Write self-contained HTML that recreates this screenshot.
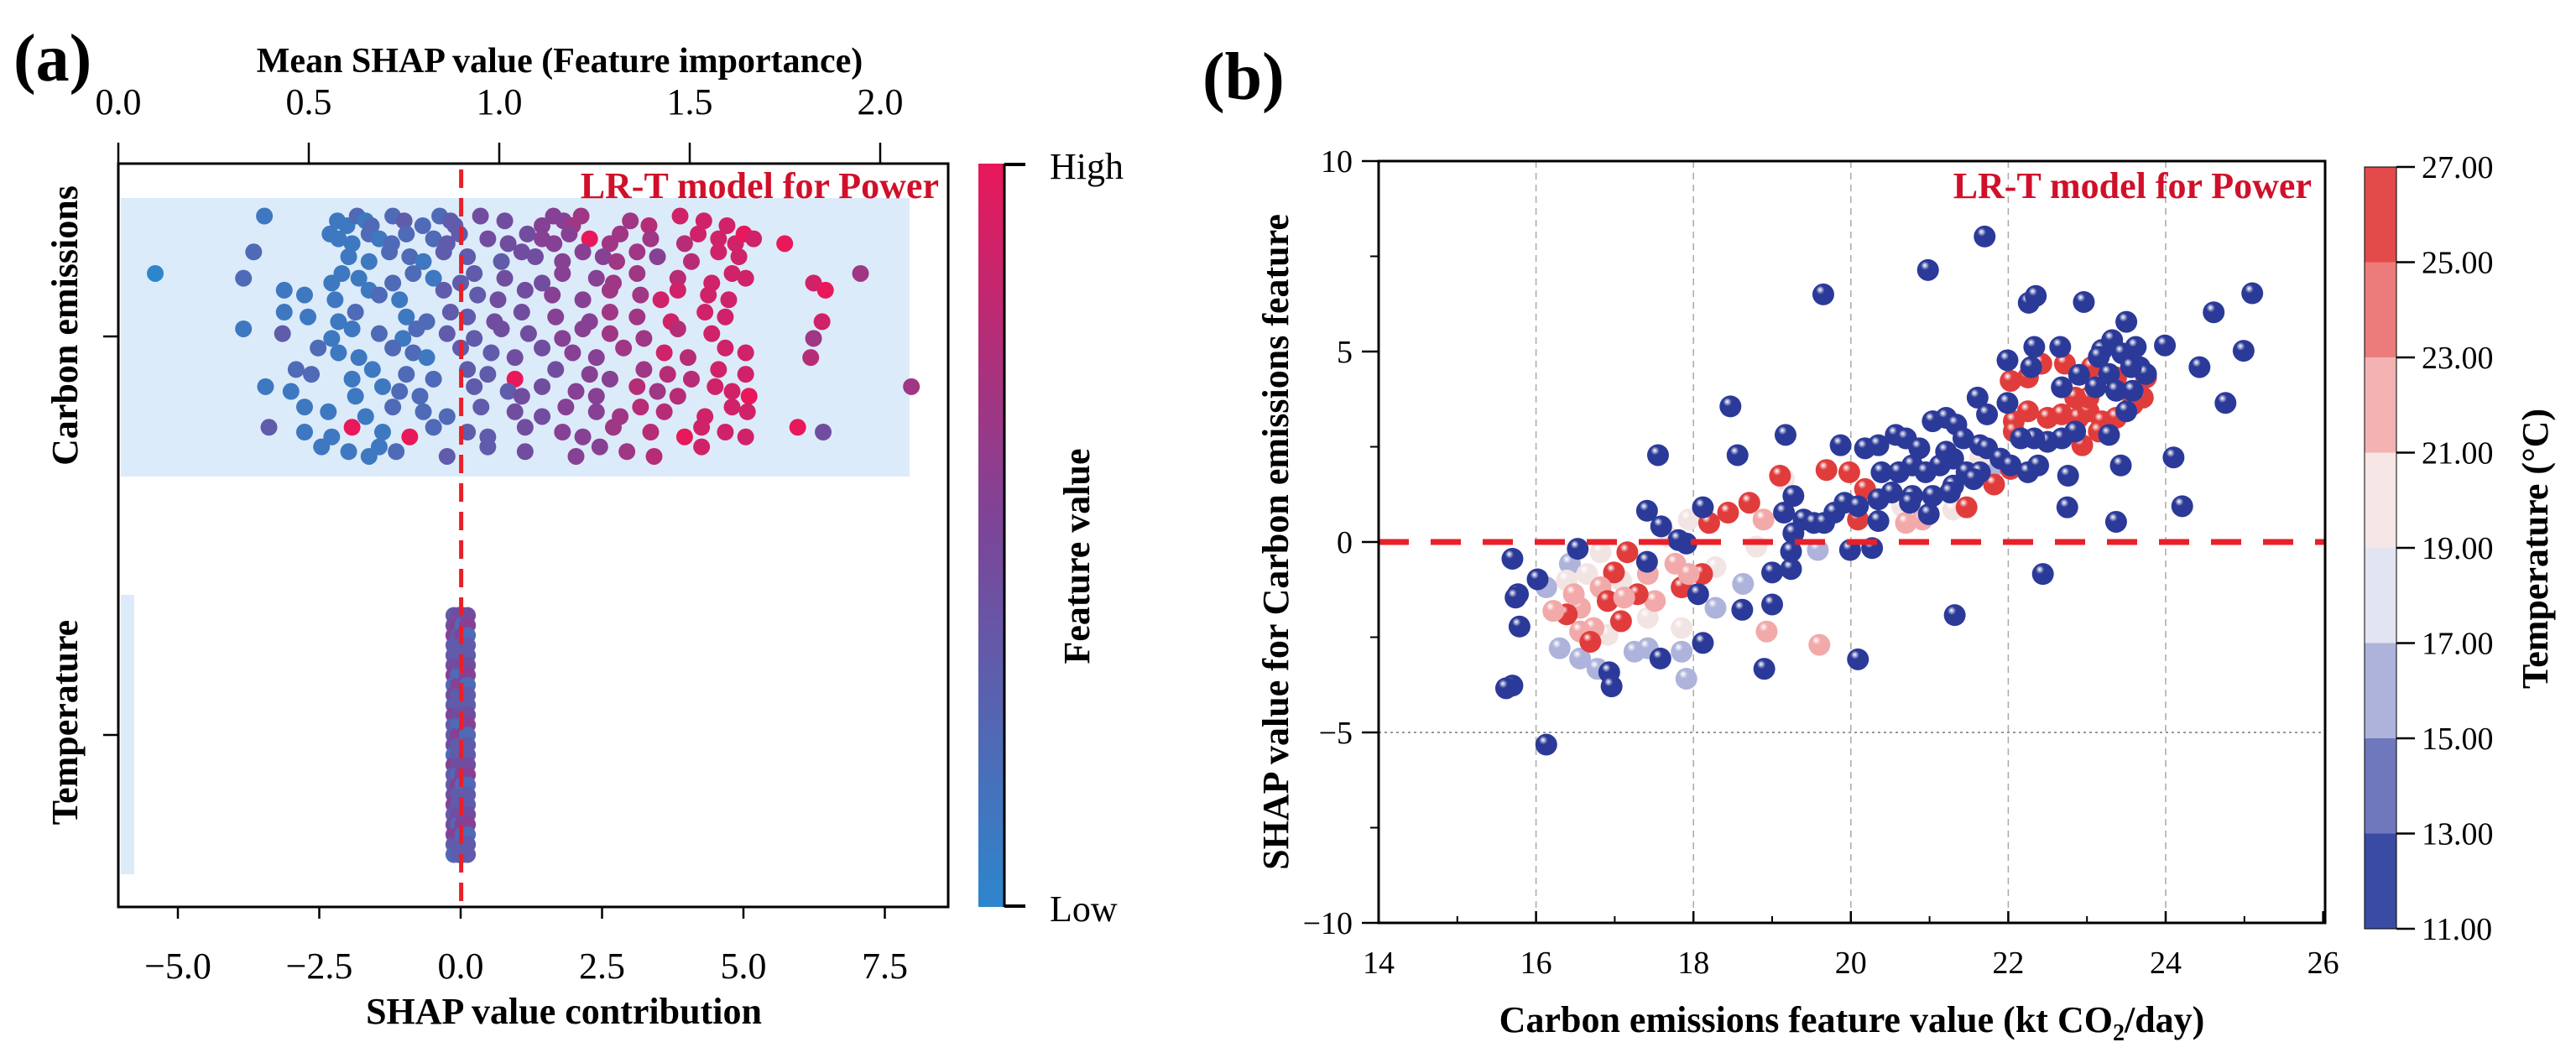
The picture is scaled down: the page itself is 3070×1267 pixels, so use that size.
<!DOCTYPE html>
<html><head><meta charset="utf-8"><style>
html,body{margin:0;padding:0;background:#fff;}
svg{display:block;font-family:"Liberation Serif",serif;}
</style></head><body>
<svg id="fig" width="3070" height="1267" viewBox="0 0 3070 1267" xmlns="http://www.w3.org/2000/svg">
<defs>
<linearGradient id="cbA" x1="0" y1="1" x2="0" y2="0">
<stop offset="0" stop-color="#2d86cc"/><stop offset="0.5" stop-color="#7a4699"/><stop offset="1" stop-color="#e8185a"/>
</linearGradient>
</defs>
<g id="panelA"></g>
<g id="panelB"></g>
</svg>
<script>
// ---------- Panel A data (beeswarm rows) ----------
const catNames = ["Carbon emissions", "Temperature"];
const topTicks = [0.0, 0.5, 1.0, 1.5, 2.0];
const topTickLabels = ["0.0", "0.5", "1.0", "1.5", "2.0"];
const botTicks = [-5.0, -2.5, 0.0, 2.5, 5.0, 7.5];
const botTickLabels = ["\u22125.0", "\u22122.5", "0.0", "2.5", "5.0", "7.5"];
const meanShap = 0.9;
const ceRowJitter = [-0.29, -0.245, -0.20, -0.146, -0.104, -0.049, -0.007, 0.041, 0.095, 0.138, 0.189, 0.24, 0.289];
const ceRowShap = [
[-3.47,-2.18,-2.01,-1.83,-1.68,-1.58,-1.20,-1.0,-0.67,-0.37,-0.18,-0.10,0.35,0.78,1.44,1.64,1.82,1.98,2.13,3.0,3.33,3.88,4.30,4.71],
[-2.31,-2.16,-1.92,-1.62,-1.44,-1.22,-0.96,-0.48,-0.24,-0.02,0.48,0.84,1.18,1.44,1.65,1.92,2.28,2.64,2.82,3.36,3.96,4.20,4.56,4.86,5.01,5.18,5.73],
[-3.66,-1.98,-1.62,-1.26,-0.90,-0.66,-0.30,0.12,0.72,1.08,1.32,1.80,2.16,2.52,2.76,3.12,3.48,4.08,4.56,4.92],
[-5.4,-3.84,-2.28,-2.10,-1.80,-1.20,-0.84,-0.48,0.0,0.24,0.78,1.44,1.80,2.40,2.70,3.12,3.84,4.44,4.80,5.04,6.24,7.07],
[-3.12,-2.76,-2.22,-1.62,-1.44,-1.08,-0.30,0.30,0.66,1.14,1.62,2.16,2.64,3.18,3.54,3.84,4.38,4.74,6.45],
[-3.12,-2.70,-2.16,-1.86,-0.96,-0.60,-0.18,0.12,0.60,1.08,1.68,2.28,2.64,3.12,3.72,4.32,4.68,6.39],
[-3.84,-3.15,-2.28,-1.92,-1.44,-1.02,-0.78,-0.24,0.24,0.72,1.20,1.80,2.16,2.64,3.24,3.84,4.44,6.24],
[-2.52,-2.16,-1.80,-1.20,-0.84,-0.60,0.0,0.54,0.96,1.44,1.98,2.40,2.88,3.60,4.02,4.68,5.04,6.19],
[-2.91,-2.64,-1.92,-1.56,-0.96,-0.48,0.12,0.48,0.96,1.68,2.28,2.64,3.24,3.66,4.08,4.56,5.04],
[-3.45,-3.0,-1.86,-1.38,-1.08,-0.72,0.24,0.84,1.08,1.44,2.04,2.40,3.12,3.48,3.84,4.50,4.80,5.10,7.97],
[-2.76,-2.34,-1.68,-1.20,-0.66,-0.24,0.36,0.96,1.44,1.86,2.40,2.82,3.18,3.60,4.32,4.80,5.07],
[-3.39,-2.76,-2.28,-1.92,-1.38,-0.90,-0.48,0.12,0.48,1.14,1.80,2.16,2.70,3.36,3.96,4.26,4.68,5.04,5.96,6.41],
[-2.46,-1.98,-1.62,-1.44,-1.14,-0.24,0.48,1.14,2.04,2.46,2.94,3.42,4.26]
];
const ceRowFeat = [
"111212232233445556667888","111212223344455596667888989","21122133344555665788",
"0211122133445566788886","1111213344556688889","111212334455668888",
"131121233445566786","211221334455687887","22112233945567788",
"1111223344557678896","11122234455677888","31191923345567988894","1111233455678"
];
const tempShap = [-0.12, -0.04, 0.04, 0.12];
const tempJitter = [-0.3,-0.275,-0.25,-0.225,-0.2,-0.175,-0.15,-0.125,-0.1,-0.075,-0.05,-0.025,0,0.025,0.05,0.075,0.1,0.125,0.15,0.175,0.2,0.225,0.25,0.275,0.3];
const tempFeat = "3453345243533425334534532453334253342533425334253342533425334253345233452334523345233452334523345233";

// ---------- Panel B data ----------
const bXTicks = [14, 16, 18, 20, 22, 24, 26];
const bYTicks = [10, 5, 0, -5, -10];
const bYTickLabels = ["10", "5", "0", "\u22125", "\u221210"];
const cbTicks = [27, 25, 23, 21, 19, 17, 15, 13, 11];
const lightX = [16.43,16.82,16.30,16.56,16.78,17.25,17.85,18.28,18.63,17.68,17.94,18.28,16.65,17.08,17.42,17.85,18.80,19.58,19.15,20.65,21.30,21.82,21.64,17.91,16.39,16.13,17.42,16.91];
const lightY = [-0.57,-0.27,-2.79,-3.06,-3.33,-2.88,-2.88,-1.73,-1.10,0.14,0.59,-0.66,-0.84,-1.01,-1.99,-2.26,-0.12,-0.21,1.65,0.94,0.85,2.01,2.19,-3.59,-1.01,-1.19,-2.79,-2.44];
const lightT = [16,19.5,16,16,16,16,16,16,16,19.5,19.5,19.5,19.5,19.5,19.5,19.5,19.5,16,19.5,19.5,19.5,16,19.5,16,19.5,16,16,19.5];
const redX = [18.71,18.44,18.20,19.10,19.69,19.98,20.18,20.09,21.47,20.70,20.91,17.16,16.99,16.82,16.56,16.39,16.73,17.08,17.51,17.85,18.11,17.77,17.29,16.22,16.48,16.91,16.56,18.93,19.60,18.89,17.94,16.69,17.12,17.42,
22.03,22.25,22.42,22.72,22.07,22.25,22.50,22.68,22.89,23.02,23.19,23.02,22.85,22.07,22.94,23.71,23.75,23.58,23.06,23.37,22.03,21.82,23.15,23.37];
const redY = [1.03,0.77,0.50,1.74,1.89,1.83,1.39,0.59,0.91,0.50,0.59,-0.27,-0.80,-1.19,-1.73,-1.90,-2.26,-2.08,-1.55,-1.19,-0.84,-0.57,-1.37,-1.81,-1.37,-1.55,-2.35,-2.35,-2.70,0.59,-0.84,-2.62,-1.46,-0.84,
4.23,4.32,4.68,4.68,3.17,3.43,3.26,3.35,3.26,3.43,3.17,3.79,3.79,2.90,2.54,3.79,4.32,3.61,4.59,4.32,1.92,1.51,2.90,3.26];
const redT = [25.5,25.5,25.5,25.5,25.5,25.5,25.5,25.5,25.5,22,22,25.5,25.5,22,22,25.5,22,25.5,22,25.5,25.5,22,25.5,22,22,25.5,22,22,22,22,22,25.5,22,22,
25.5,25.5,25.5,25.5,25.5,25.5,25.5,25.5,25.5,25.5,25.5,25.5,25.5,25.5,25.5,25.5,25.5,25.5,25.5,25.5,25.5,25.5,25.5,25.5];
const blueX = [21.70,20.98,19.65,22.26,22.35,22.96,23.50,24.61,25.10,24.99,24.43,24.76,23.99,24.10,24.21,23.37,22.44,21.32,20.09,18.90,16.13,18.47,19.17,19.87,17.55,18.56,17.41,17.59,18.12,16.53,16.02,15.77,15.79,15.70,17.41,18.06,18.12,17.58,18.62,19.00,19.00,19.24,19.24,19.99,20.27,20.35,20.99,16.93,16.96,17.91,17.81,15.62,15.74,15.70,
20.18,20.35,20.57,20.70,20.87,21.04,21.21,21.34,21.43,21.64,21.73,20.39,20.61,20.78,20.95,21.13,21.30,21.47,21.64,21.90,22.03,22.25,22.38,20.52,20.78,21.04,21.30,21.56,19.40,19.53,19.66,19.79,19.92,19.27,19.15,19.27,20.35,20.09,20.75,21.26,21.61,21.73,21.99,21.21,
21.99,22.33,22.66,22.29,22.68,22.90,23.19,23.32,23.45,23.62,23.67,23.28,23.11,23.37,23.50,23.58,23.75,23.15,23.56,23.28,22.85,22.68,22.50,22.33,22.16,22.76,22.75,23.43];
const blueY = [8.02,7.14,6.50,6.28,6.46,6.30,5.78,6.03,6.53,5.02,4.59,3.65,5.16,2.22,0.94,0.53,-0.84,-1.92,-3.08,-3.33,-5.32,3.56,2.81,2.54,2.28,2.28,0.82,0.41,0.91,-0.18,-0.98,-1.37,-2.22,-3.77,-0.52,-1.37,-2.65,-3.06,-1.78,-1.64,-0.80,-0.71,-0.25,-0.21,-0.16,0.55,0.73,-3.42,-3.79,-0.04,0.05,-3.84,-1.46,-0.44,
2.46,2.54,2.81,2.72,2.46,3.17,3.26,3.08,2.72,2.54,2.46,1.83,1.83,2.01,1.83,2.01,2.19,1.83,1.83,2.19,2.01,1.83,2.01,1.30,1.21,1.21,1.48,1.65,0.59,0.50,0.50,0.77,1.03,1.21,0.77,0.23,1.12,0.94,1.03,1.30,3.79,3.35,3.65,2.37,
4.77,5.12,5.12,4.59,4.06,4.39,5.04,5.30,4.95,5.12,4.59,4.41,4.06,3.97,3.43,3.97,4.41,4.86,4.59,2.81,2.90,2.72,2.63,2.72,2.72,1.74,0.91,2.01];

const NS = "http://www.w3.org/2000/svg";
function mk(parent, tag, attrs, text) {
  const el = document.createElementNS(NS, tag);
  for (const k in attrs) el.setAttribute(k, attrs[k]);
  if (text !== undefined) el.textContent = text;
  parent.appendChild(el);
  return el;
}
const svg = document.getElementById("fig");
const defs = svg.querySelector("defs");
const A = document.getElementById("panelA");
const B = document.getElementById("panelB");

// ================= PANEL A =================
const axL = 141, axR = 1130, axT = 195, axB = 1081;
const xa = v => 549 + v * 67.4;
const xt = v => 141 + v * 454;
const ya = (c, j) => 401 + (c + j) * 475;
function cmapA(f) {
  const c0 = [45,134,204], c1 = [122,70,155], c2 = [232,24,90];
  let a, b, t;
  if (f < 0.5) { a = c0; b = c1; t = f / 0.5; } else { a = c1; b = c2; t = (f - 0.5) / 0.5; }
  return `rgb(${Math.round(a[0]+(b[0]-a[0])*t)},${Math.round(a[1]+(b[1]-a[1])*t)},${Math.round(a[2]+(b[2]-a[2])*t)})`;
}
let t;
t = mk(A, "text", {x: 16, y: 96, "font-size": 80, "font-weight": "bold"}, "(a)");
 
t = mk(A, "text", {x: 667, y: 86, "font-size": 42, "font-weight": "bold", "text-anchor": "middle"}, "Mean SHAP value  (Feature importance)");
 
let r = mk(A, "rect", {x: 144, y: 236, width: 940, height: 332, fill: "#dcebf9"});
 
r = mk(A, "rect", {x: 144, y: 709, width: 16, height: 333, fill: "#dcebf9"});
 
const ceG = mk(A, "g", {});
 
ceRowShap.forEach((row, ri) => {
  row.forEach((v, i) => {
    const f = parseInt(ceRowFeat[ri][i] || "5") / 9;
    const c = mk(ceG, "circle", {cx: xa(v), cy: ya(0, ceRowJitter[ri] + ((i % 3) - 1) * 0.012), r: 10, fill: cmapA(f)});
    
    
  });
});
const tpG = mk(A, "g", {});
 
let k = 0;
tempShap.forEach(s => tempJitter.forEach(j => {
  const f = parseInt(tempFeat[k % tempFeat.length]) / 9; k++;
  const c = mk(tpG, "circle", {cx: xa(s), cy: ya(1, j), r: 10, fill: cmapA(f)});
  
  
}));
let ln = mk(A, "line", {x1: xt(meanShap) , y1: 202, x2: xt(meanShap), y2: axB, stroke: "#e8202a", "stroke-width": 5, "stroke-dasharray": "22 12"});
 
r = mk(A, "rect", {x: axL, y: axT, width: axR - axL, height: axB - axT, fill: "none", stroke: "#000", "stroke-width": 3});
 
topTicks.forEach((v, i) => {
  const l = mk(A, "line", {x1: xt(v), y1: axT, x2: xt(v), y2: 170, stroke: "#000", "stroke-width": 2.5});
   
  const tx = mk(A, "text", {x: xt(v), y: 136, "font-size": 44, "text-anchor": "middle"}, topTickLabels[i]);
   
});
botTicks.forEach((v, i) => {
  const l = mk(A, "line", {x1: xa(v), y1: axB, x2: xa(v), y2: axB + 14, stroke: "#000", "stroke-width": 2.5});
   
  const tx = mk(A, "text", {x: xa(v), y: 1166, "font-size": 44, "text-anchor": "middle"}, botTickLabels[i]);
   
});
catNames.forEach((n, i) => {
  const y = ya(i, 0);
  const l = mk(A, "line", {x1: axL, y1: y, x2: axL - 18, y2: y, stroke: "#000", "stroke-width": 2.5});
   
  const cy = i === 0 ? 388 : 861;
  const tx = mk(A, "text", {x: 0, y: 0, "font-size": 44, "font-weight": "bold", "text-anchor": "middle", transform: `translate(92,${cy}) rotate(-90)`}, n);
   
});
t = mk(A, "text", {x: 672, y: 1220, "font-size": 44, "font-weight": "bold", "text-anchor": "middle"}, "SHAP value contribution");
 
t = mk(A, "text", {x: 1119, y: 236, "font-size": 44, "font-weight": "bold", "text-anchor": "end", fill: "#d0102a"}, "LR-T model for Power");
 
r = mk(A, "rect", {x: 1166, y: 195, width: 31, height: 886, fill: "url(#cbA)"});
 
mk(A, "line", {x1: 1197, y1: 195, x2: 1197, y2: 1081, stroke: "#000", "stroke-width": 3});
mk(A, "line", {x1: 1197, y1: 196, x2: 1222, y2: 196, stroke: "#000", "stroke-width": 4});
mk(A, "line", {x1: 1197, y1: 1080, x2: 1222, y2: 1080, stroke: "#000", "stroke-width": 4});
t = mk(A, "text", {x: 1251, y: 213, "font-size": 44}, "High");
 
t = mk(A, "text", {x: 1251, y: 1098, "font-size": 44}, "Low");
 
t = mk(A, "text", {x: 0, y: 0, "font-size": 44, "font-weight": "bold", "text-anchor": "middle", transform: "translate(1298,663) rotate(-90)"}, "Feature value");
 

// ================= PANEL B =================
const bL = 1643, bR = 2771, bT = 192, bB = 1100;
const xb = v => 1643 + (v - 14) * 93.8;
const yb = v => 646 - v * 45.4;
const bands = [[11,13,"#3a4ba3"],[13,15,"#6f78bd"],[15,17,"#aeb3db"],[17,19,"#e3e4f2"],[19,21,"#f6e6e6"],[21,23,"#f3b3b3"],[23,25,"#ec7b7b"],[25,27,"#e34a4a"]];
const dotCols = ["#2b3a98","#6f78bd","#aeb3db","#dcdcf0","#f3e4e4","#f2a9a9","#e86a6a","#e03c3c"];
dotCols.forEach((c, i) => {
  const g = mk(defs, "radialGradient", {id: "sph" + i, cx: "0.4", cy: "0.35", r: "0.65", fx: "0.35", fy: "0.28"});
  mk(g, "stop", {offset: "0", "stop-color": "#ffffff", "stop-opacity": "0.95"});
  mk(g, "stop", {offset: "0.3", "stop-color": c});
  mk(g, "stop", {offset: "1", "stop-color": c, "stop-opacity": "1"});
});
const bandIdx = tv => Math.max(0, Math.min(7, Math.floor((tv - 11) / 2)));

t = mk(B, "text", {x: 1433, y: 118, "font-size": 80, "font-weight": "bold"}, "(b)");
 
bXTicks.slice(1, -1).forEach(v => {
  const l = mk(B, "line", {x1: xb(v), y1: bT, x2: xb(v), y2: bB, stroke: "#aaa", "stroke-width": 1.5, "stroke-dasharray": "8 6"});
   
});
ln = mk(B, "line", {x1: bL, y1: yb(-5), x2: bR, y2: yb(-5), stroke: "#777", "stroke-width": 1.5, "stroke-dasharray": "3 4"});
 
function drawDots(X, Y, T, name) {
  const g = mk(B, "g", {});
   
  X.forEach((xv, i) => {
    const c = mk(g, "circle", {cx: xb(xv), cy: yb(Y[i]), r: 13, fill: `url(#sph${bandIdx(T[i])})`});
    
    
  });
}
drawDots(lightX, lightY, lightT, "mild-temperature-points");
drawDots(redX, redY, redT, "warm-temperature-points");
drawDots(blueX, blueY, blueX.map(() => 12), "cool-temperature-points");
ln = mk(B, "line", {x1: bL, y1: yb(0), x2: bR, y2: yb(0), stroke: "#e8202a", "stroke-width": 7, "stroke-dasharray": "36 26"});
 
r = mk(B, "rect", {x: bL, y: bT, width: bR - bL, height: bB - bT, fill: "none", stroke: "#000", "stroke-width": 3});
 
bXTicks.forEach(v => {
  const l = mk(B, "line", {x1: xb(v), y1: bB, x2: xb(v), y2: bB - 14, stroke: "#000", "stroke-width": 2.5});
   
  if (v < 26) { mk(B, "line", {x1: xb(v + 1), y1: bB, x2: xb(v + 1), y2: bB - 8, stroke: "#000", "stroke-width": 2}); }
  const tx = mk(B, "text", {x: xb(v), y: 1160, "font-size": 38, "text-anchor": "middle"}, String(v));
   
});
bYTicks.forEach((v, i) => {
  const l = mk(B, "line", {x1: bL, y1: yb(v), x2: bL - 20, y2: yb(v), stroke: "#000", "stroke-width": 2.5});
   
  if (v > -10) mk(B, "line", {x1: bL, y1: yb(v - 2.5), x2: bL - 10, y2: yb(v - 2.5), stroke: "#000", "stroke-width": 2});
  const tx = mk(B, "text", {x: 1612, y: yb(v) + 13, "font-size": 38, "text-anchor": "end"}, bYTickLabels[i]);
   
});
t = mk(B, "text", {x: 2755, y: 236, "font-size": 44, "font-weight": "bold", "text-anchor": "end", fill: "#d0102a"}, "LR-T model for Power");
 
t = mk(B, "text", {x: 0, y: 0, "font-size": 44, "font-weight": "bold", "text-anchor": "middle", transform: "translate(1535,646) rotate(-90)"}, "SHAP value for Carbon emissions feature");
 
t = mk(B, "text", {x: 2207, y: 1230, "font-size": 44, "font-weight": "bold", "text-anchor": "middle"});
 
mk(t, "tspan", {}, "Carbon emissions feature value (kt CO");
mk(t, "tspan", {"font-size": 28, dy: 10}, "2");
mk(t, "tspan", {dy: -10}, "/day)");
const ycb = v => 1107 - (v - 11) * 56.75;
bands.forEach(b => {
  const rr = mk(B, "rect", {x: 2818, y: ycb(b[1]), width: 38, height: ycb(b[0]) - ycb(b[1]), fill: b[2]});
   
});
mk(B, "rect", {x: 2818, y: ycb(27), width: 38, height: ycb(11) - ycb(27), fill: "none", stroke: "#000", "stroke-width": 1});
cbTicks.forEach(v => {
  mk(B, "line", {x1: 2856, y1: ycb(v), x2: 2878, y2: ycb(v), stroke: "#000", "stroke-width": 2.5});
  const tx = mk(B, "text", {x: 2886, y: ycb(v) + 13, "font-size": 38}, v.toFixed(2));
   
});
t = mk(B, "text", {x: 0, y: 0, "font-size": 44, "font-weight": "bold", "text-anchor": "middle", transform: "translate(3036,654) rotate(-90)"}, "Temperature (\u00B0C)");
 
</script>
</body></html>
